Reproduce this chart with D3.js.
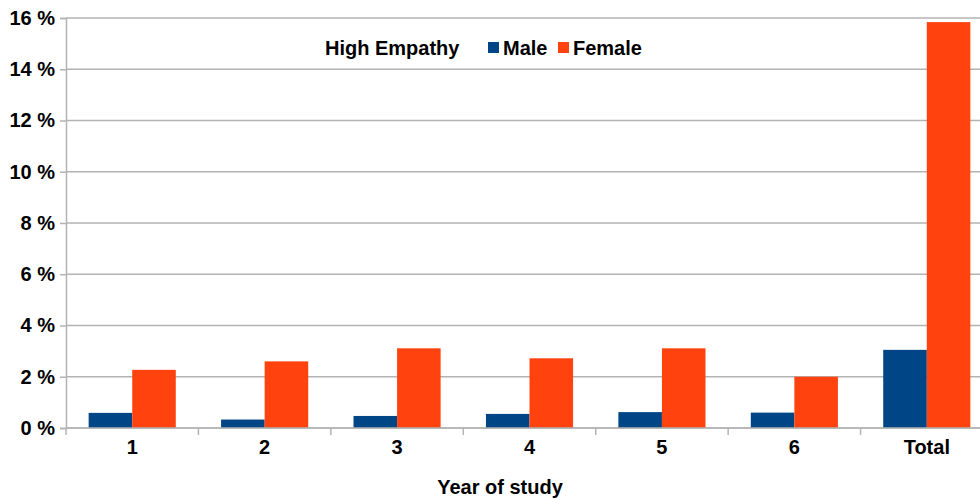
<!DOCTYPE html>
<html>
<head>
<meta charset="utf-8">
<script src="https://cdn.jsdelivr.net/npm/d3@7"></script>
<style>
  body { margin: 0; background: #fff; }
  svg { display: block; font-family: "Liberation Sans", Arial, sans-serif; }
  .axis text { font-size: 20px; font-weight: bold; fill: #000; }
  .axis path, .axis line { stroke: #b3b3b3; }
</style>
</head>
<body>
<svg width="980" height="500"></svg>
<script>
// data
var categories = ["1", "2", "3", "4", "5", "6", "Total"];
var seriesNames = ["Male", "Female"];
var male = [0.59, 0.33, 0.47, 0.55, 0.62, 0.60, 3.05];
var female = [2.27, 2.60, 3.11, 2.72, 3.11, 2.00, 15.84];
var yTicks = [0, 2, 4, 6, 8, 10, 12, 14, 16];
var colors = ["#004586", "#ff420e"];

var svg = d3.select("svg"),
    margin = {top: 18, left: 66},
    plotRight = 993,   // plot runs a bit past the right edge, as in the picture
    baseline = 428;

var x0 = d3.scaleBand().domain(categories).range([margin.left, plotRight]).paddingInner(0).paddingOuter(0);
var x1 = d3.scaleBand().domain(seriesNames).range([0, x0.bandwidth()]).paddingOuter(0.52);
var y = d3.scaleLinear().domain([0, 16]).range([baseline, margin.top]);

// horizontal grid lines
svg.append("g")
    .selectAll("line")
    .data(yTicks)
    .enter().append("line")
      .attr("x1", margin.left)
      .attr("x2", 980)
      .attr("y1", function(d) { return y(d); })
      .attr("y2", function(d) { return y(d); })
      .attr("stroke", "#b3b3b3")
      .attr("stroke-width", 1.5);

// y axis
var yAxis = svg.append("g")
    .attr("class", "axis")
    .attr("transform", "translate(" + margin.left + ",0)")
    .call(d3.axisLeft(y).tickValues(yTicks).tickSize(6).tickPadding(5)
      .tickFormat(function(d) { return d + " %"; }));
yAxis.select(".domain").attr("stroke-width", 1.5);
yAxis.selectAll("line").attr("stroke-width", 1.5);

// bars
var rows = categories.map(function(c, i) {
  return {cat: c, values: [male[i], female[i]]};
});

var groups = svg.append("g")
  .selectAll("g")
  .data(rows)
  .enter().append("g")
    .attr("transform", function(d) { return "translate(" + x0(d.cat) + ",0)"; });

groups.selectAll("rect")
  .data(function(d) { return d.values.map(function(v, j) { return {name: seriesNames[j], value: v, idx: j}; }); })
  .enter().append("rect")
    .attr("x", function(d) { return x1(d.name); })
    .attr("y", function(d) { return y(d.value); })
    .attr("width", x1.bandwidth())
    .attr("height", function(d) { return baseline - y(d.value); })
    .attr("fill", function(d) { return colors[d.idx]; });

// x axis
var xAxis = svg.append("g")
    .attr("class", "axis")
    .attr("transform", "translate(0," + baseline + ")")
    .call(d3.axisBottom(x0).tickSize(0).tickPadding(12));
xAxis.select(".domain").remove();

svg.append("line")
    .attr("x1", margin.left).attr("x2", 980)
    .attr("y1", baseline).attr("y2", baseline)
    .attr("stroke", "#b3b3b3").attr("stroke-width", 1.5);

// ticks at category boundaries
svg.append("g")
  .selectAll("line")
  .data(categories)
  .enter().append("line")
    .attr("x1", function(d) { return x0(d); })
    .attr("x2", function(d) { return x0(d); })
    .attr("y1", baseline)
    .attr("y2", baseline + 7)
    .attr("stroke", "#b3b3b3")
    .attr("stroke-width", 1.5);

// axis title
svg.append("text")
    .attr("x", 500)
    .attr("y", 494)
    .attr("text-anchor", "middle")
    .attr("font-size", "20px")
    .attr("font-weight", "bold")
    .text("Year of study");

// legend
var legend = svg.append("g").attr("font-size", "20px").attr("font-weight", "bold");
legend.append("text").attr("x", 325).attr("y", 55).text("High Empathy");
var legendX = [488, 558];
seriesNames.forEach(function(n, i) {
  legend.append("rect")
    .attr("x", legendX[i]).attr("y", 42)
    .attr("width", 11).attr("height", 11)
    .attr("fill", colors[i]);
  legend.append("text")
    .attr("x", legendX[i] + 15).attr("y", 55)
    .text(n);
});
</script>
</body>
</html>
